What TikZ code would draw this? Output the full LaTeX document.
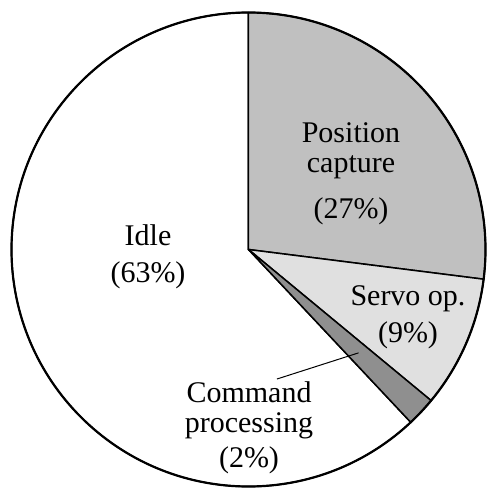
\documentclass[tikz,border=0pt]{standalone}
\usepackage{fontspec}
\setmainfont{Liberation Serif}
\usepackage{tikz}
\tikzset{>=latex}
\definecolor{capgray}{HTML}{C0C0C0}
\definecolor{servogray}{HTML}{E0E0E0}
\definecolor{cmdgray}{HTML}{8F8F8F}

\begin{document}
\begin{tikzpicture}[x=1pt, y=1pt,
    slice/.style={draw, line width=1.5pt, line join=round},
    lbl/.style={align=center, anchor=base, font=\fontsize{30}{30}\selectfont}]
    \useasboundingbox(-248.5, -241.5) rectangle (239.5, 249.5);
    \filldraw[slice, fill=white](0, 0)--(-46.8:237)arc(-46.8:-270:237)--cycle;
    \filldraw[slice, fill=capgray](0, 0)--(90:237)arc(90:-7.2:237)--cycle;
    \filldraw[slice, fill=servogray](0, 0)--(-7.2:237)arc(-7.2:-39.6:237)--cycle;
    \filldraw[slice, fill=cmdgray](0, 0)--(-39.6:237)arc(-39.6:-46.8:237)--cycle;
    \draw[line width=2.2pt](0, 0)circle(237);
    \node[lbl](capture) at (102.5, 31.5) {Position\\capture\\[16pt](27\%)};
    \node[lbl](idle) at (-100.5, -32.5) {Idle\\[7pt](63\%)};
    \node[lbl](servo) at (159.5, -92.5) {Servo op.\\[7pt](9\%)};
    \node[lbl](command) at (0.5, -217.5) {Command\\processing\\[5pt](2\%)};
    \coordinate(cmdtip) at (-43.2:151);
    \coordinate(cmdfoot) at (28.5, -129.5);
    \draw[line width=1pt](cmdfoot)--(cmdtip);
\end{tikzpicture}
\end{document}
